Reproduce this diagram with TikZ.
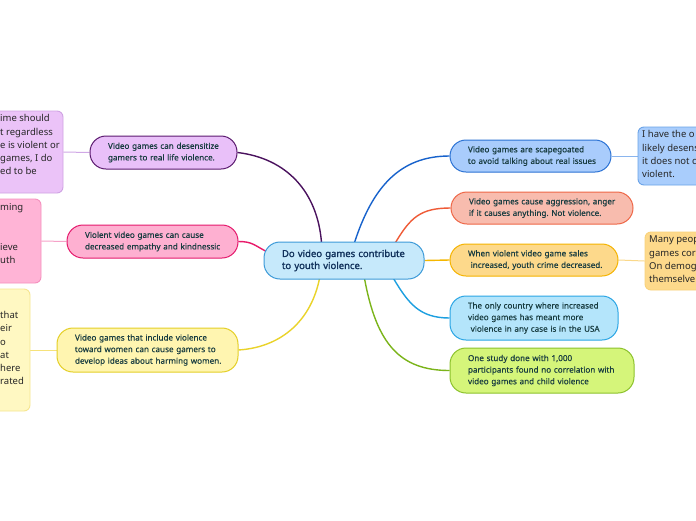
\documentclass[tikz,border=0pt]{standalone}
\usepackage{fontspec}
\setmainfont{Noto Sans}
\newfontfamily\centerfont[FakeBold=1.4]{Noto Sans}
\newfontfamily\smallfont[FakeBold=0.4]{Noto Sans}
\usetikzlibrary{calc}
\frenchspacing
\pgfdeclarelayer{paper}
\pgfdeclarelayer{background}
\pgfsetlayers{paper,background,main}
\newcommand{\ml}[1]{\mbox{#1}}
\definecolor{tdark}{RGB}{24,60,64}
\definecolor{cfill}{RGB}{198,233,251}\definecolor{cdraw}{RGB}{60,154,216}\definecolor{ctext}{RGB}{16,48,90}
\definecolor{aF}{RGB}{233,192,249}\definecolor{aD}{RGB}{91,26,111}\definecolor{aC}{RGB}{74,18,94}
\definecolor{aFF}{RGB}{235,195,248}\definecolor{aFD}{RGB}{207,163,227}\definecolor{aL}{RGB}{208,168,230}
\definecolor{bF}{RGB}{254,176,209}\definecolor{bD}{RGB}{229,25,108}\definecolor{bC}{RGB}{232,26,106}
\definecolor{bFF}{RGB}{255,180,214}\definecolor{bFD}{RGB}{245,144,190}\definecolor{bL}{RGB}{246,162,200}
\definecolor{cF}{RGB}{255,245,176}\definecolor{cD}{RGB}{228,207,38}\definecolor{cC}{RGB}{234,211,42}
\definecolor{cFF}{RGB}{255,248,194}\definecolor{cFD}{RGB}{246,230,144}\definecolor{cL}{RGB}{246,226,122}
\definecolor{dF}{RGB}{169,204,252}\definecolor{dD}{RGB}{43,114,212}\definecolor{dC}{RGB}{23,98,204}
\definecolor{dFF}{RGB}{169,205,252}\definecolor{dFD}{RGB}{106,163,232}\definecolor{dL}{RGB}{138,181,238}
\definecolor{eF}{RGB}{248,188,174}\definecolor{eD}{RGB}{238,102,70}\definecolor{eC}{RGB}{239,90,54}
\definecolor{fF}{RGB}{253,217,139}\definecolor{fD}{RGB}{245,179,0}\definecolor{fC}{RGB}{245,183,0}
\definecolor{fFF}{RGB}{253,217,139}\definecolor{fFD}{RGB}{249,210,122}\definecolor{fL}{RGB}{250,216,138}
\definecolor{gF}{RGB}{180,229,251}\definecolor{gD}{RGB}{42,165,228}\definecolor{gC}{RGB}{28,159,224}
\definecolor{hF}{RGB}{213,245,122}\definecolor{hD}{RGB}{140,194,44}\definecolor{hC}{RGB}{123,180,26}
\tikzset{
  pill/.style={rounded corners=16pt, line width=1pt, inner xsep=18pt, inner ysep=0pt, align=left,
    text=tdark, font=\smallfont\fontsize{8.1}{11.6}\selectfont},
  farbox/.style={rounded corners=6pt, line width=0.9pt, inner sep=0pt},
  fartext/.style={inner sep=0pt, align=left, text=black!85, font=\fontsize{9.5}{13.2}\selectfont},
  conn/.style={line width=1.4pt},
  farconn/.style={line width=1pt}
}
\begin{document}
\begin{tikzpicture}[x=1pt,y=-1pt]
\useasboundingbox (0,0) rectangle (696,520);
\clip (0,0) rectangle (696,520);
\begin{pgfonlayer}{paper}
\fill[white] (0,0) rectangle (696,520);
\end{pgfonlayer}

% far boxes (clipped at edges)
\node[farbox, fill=aFF, draw=aFD, minimum width=160pt, minimum height=82pt] (l1f) at (-17,152) {};
\node[fartext, anchor=north west] (l1t) at (0,114.5) {ime should\\t regardless\\e is violent or\\games, I do\\ed to be};
\node[farbox, fill=bFF, draw=bFD, minimum width=140pt, minimum height=84pt] (l2f) at (-29,241) {};
\node[fartext, anchor=north west] (l2t) at (0,203.5) {ming\\\mbox{}\\\mbox{}\\ieve\\uth};
\node[farbox, fill=cFF, draw=cFD, minimum width=140pt, minimum height=122pt] (l3f) at (-40,350) {};
\node[fartext, anchor=north west] (l3t) at (0,292) {\mbox{}\\\mbox{}\\that\\eir\\o\\at\\here\\rated};
\node[farbox, fill=dFF, draw=dFD, minimum width=160pt, minimum height=58pt] (r1f) at (718,156) {};
\node[fartext, anchor=north west] (r1t) at (642,130.5) {I have the o\\likely desens\\it does not c\\violent.};
\node[farbox, fill=fFF, draw=fFD, minimum width=160pt, minimum height=58pt] (r3f) at (725,261) {};
\node[fartext, anchor=north west] (r3t) at (649,236) {Many peop\\games cor\\On demog\\themselve};

% main nodes
\node[pill, fill=cfill, draw=cdraw, text=ctext, text width=124pt, minimum height=37pt,
  font=\centerfont\fontsize{9.5}{12}\selectfont] (c) at (344,260.5) {\ml{Do video games contribute}\\\ml{to youth violence.}};

\node[pill, fill=aF, draw=aD, text width=111pt, minimum height=33pt] (l1) at (163.5,152.5) {\ml{Video games can desensitize}\\\ml{gamers to real life violence.}};
\node[pill, fill=bF, draw=bD, text width=135pt, minimum height=33pt] (l2) at (152.5,241.5) {\ml{Violent video games can cause}\\\ml{decreased empathy and kindnessic}};
\node[pill, fill=cF, draw=cD, text width=145pt, minimum height=44pt] (l3) at (147.5,350) {\ml{Video games that include violence}\\\ml{toward women can cause gamers to}\\\ml{develop ideas about harming women.}};

\node[pill, fill=dF, draw=dD, text width=125pt, minimum height=32pt] (r1) at (530.5,156) {\ml{Video games are scapegoated}\\\ml{to avoid talking about real issues}};
\node[pill, fill=eF, draw=eD, text width=146pt, minimum height=32pt] (r2) at (542,208) {\ml{Video games cause aggression, anger}\\\ml{if it causes anything. Not violence.}};
\node[pill, fill=fF, draw=fD, text width=132pt, minimum height=32pt] (r3) at (534,260) {\ml{When violent video game sales}\\\ml{\ increased, youth crime decreased.}};
\node[pill, fill=gF, draw=gD, text width=132pt, minimum height=44pt] (r4) at (534,318) {\ml{The only country where increased}\\\ml{video games has meant more}\\\ml{\ violence in any case is in the USA}};
\node[pill, fill=hF, draw=hD, text width=148pt, minimum height=45pt] (r5) at (542,370.5) {\ml{One study done with 1,000}\\\ml{participants found no correlation with}\\\ml{video games and child violence}};

% connectors
\begin{pgfonlayer}{background}
\draw[farconn, aL] (l1f.east) -- (l1.west);
\draw[farconn, bL] (l2f.east) -- (l2.west);
\draw[farconn, cL] (l3f.east) -- (l3.west);
\draw[farconn, dL] (r1.east) -- (r1f.west);
\draw[farconn, fL] (r3.east) -- (r3f.west);

\draw[conn, aC] (l1.east) .. controls +(50,6) and +(-4,-50) .. ($(c.north west)+(58,1)$);
\draw[conn, bC] (l2.east) .. controls +(14,0) and +(-12,-6) .. ($(c.west)+(3,-9)$);
\draw[conn, cC] (l3.east) .. controls +(45,-3) and +(-8,40) .. ($(c.south west)+(56,-1)$);
\draw[conn, dC] ($(c.north west)+(91,1)$) .. controls +(18,-55) and +(-50,0) .. (r1.west);
\draw[conn, eC] ($(c.north east)+(-29,1)$) .. controls +(15,-25) and +(-30,0) .. (r2.west);
\draw[conn, fC] (c.east) -- (r3.west);
\draw[conn, gC] ($(c.south east)+(-31,-1)$) .. controls +(15,25) and +(-30,0) .. (r4.west);
\draw[conn, hC] ($(c.south west)+(101,-1)$) .. controls +(12,65) and +(-50,0) .. (r5.west);
\end{pgfonlayer}
\end{tikzpicture}
\end{document}
